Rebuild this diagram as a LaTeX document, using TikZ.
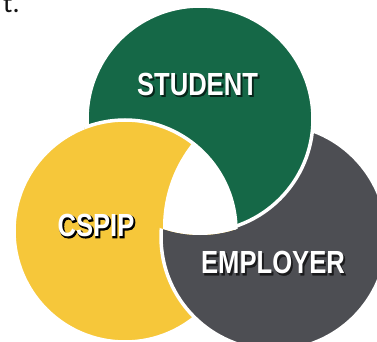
\documentclass[tikz,border=0pt]{standalone}
\usepackage{fontspec}
\newfontfamily\lblfont{Liberation Sans}[FakeStretch=0.8]
\newfontfamily\lblheavy{Liberation Sans}[FakeStretch=0.8,FakeBold=4]
\newfontfamily\lblsoft{Liberation Sans}[FakeStretch=0.8,FakeBold=1]
\newfontfamily\txtfont{Carlito}
\definecolor{cgreen}{RGB}{21,104,71}
\definecolor{cyellow}{RGB}{246,199,58}
\definecolor{cgray}{RGB}{77,78,83}
\newcommand\shcopy[3]{\makebox[0pt][l]{\kern#1\raisebox{#2}{#3}}}
\newcommand\softshadow[2]{\shcopy{1.6pt}{-1.6pt}{\lblsoft\bfseries\textcolor{#1}{#2}}\textcolor{white}{#2}}
\newcommand\hardshadow[1]{%
  \shcopy{1.2pt}{-1.2pt}{\lblheavy\bfseries\textcolor{black}{#1}}%
  \textcolor{white}{#1}}
\begin{document}
\begin{tikzpicture}[x=1pt,y=-1pt,
  ring/.style={draw=white,line width=3.5pt},
  lbl/.style={font=\lblfont\bfseries\fontsize{32}{32}\selectfont,text=white,inner sep=0pt}]
\useasboundingbox (0,0) rectangle (377,342);
% fragment of text at top left
\node[font=\txtfont\fontsize{28}{28}\selectfont,anchor=base west,inner sep=0pt,text=black!92] (tfrag) at (3,12.5) {t.};
% base circles
\path[fill=cyellow,ring] (125,231) circle[radius=111pt];
\path[fill=cgray,ring] (274,237) circle[radius=113pt];
\path[fill=cgreen,ring] (200,119) circle[radius=113pt];
% yellow over green
\begin{scope}
  \clip (200,119) circle[radius=116pt];
  \path[fill=cyellow,ring] (125,231) circle[radius=111pt];
\end{scope}
% white centre
\begin{scope}
  \clip (298,227) circle[radius=135pt];
  \clip (125,231) circle[radius=111pt];
  \fill[white] (200,119) circle[radius=116pt];
\end{scope}
% labels
\node[lbl] (student) at (197.5,85) {\softshadow{cgreen!35!black}{STUDENT}};
\node[lbl] (cspip) at (96,226) {\hardshadow{CSPIP}};
\node[lbl] (employer) at (273,263.5) {\softshadow{cgray!35!black}{EMPLOYER}};
\end{tikzpicture}
\end{document}
